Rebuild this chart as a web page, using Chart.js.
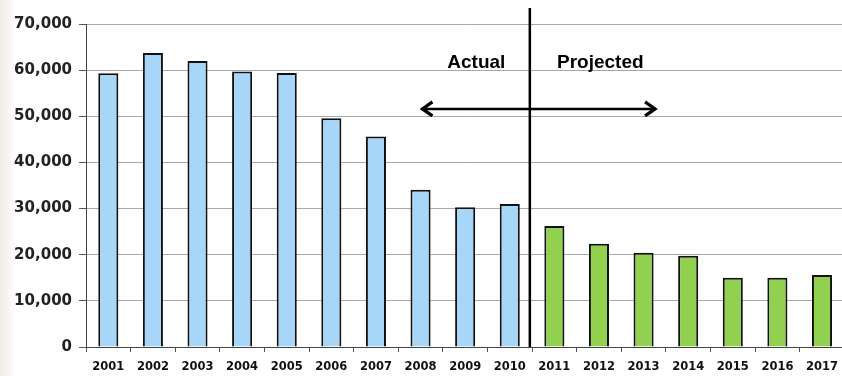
<!DOCTYPE html>
<html>
<head>
<meta charset="utf-8">
<script src="https://cdn.jsdelivr.net/npm/chart.js@4"></script>
<style>
  html, body { margin: 0; padding: 0; width: 842px; height: 376px; overflow: hidden; background: #fff; }
  #wrap { position: relative; width: 846px; height: 376px;
          background: linear-gradient(to right, #efece5 0px, #f7f5f1 8px, #ffffff 16px); }
</style>
</head>
<body>
<div id="wrap"><canvas id="c" width="846" height="376"></canvas></div>
<script>
// ---- data ----
const years = ['2001','2002','2003','2004','2005','2006','2007','2008','2009','2010',
               '2011','2012','2013','2014','2015','2016','2017'];
const actual = [59300, 63700, 62000, 59700, 59400, 49600, 45600, 34100, 30300, 31000,
                null, null, null, null, null, null, null];
const projected = [null, null, null, null, null, null, null, null, null, null,
                   26200, 22400, 20400, 19800, 15000, 15000, 15600];
const yTicks = [0, 10000, 20000, 30000, 40000, 50000, 60000, 70000];
const labelActual = 'Actual';
const labelProjected = 'Projected';

// ---- annotation plugin ----
function xAt(scale, idx) {
  const i0 = Math.floor(idx), f = idx - i0;
  const p0 = scale.getPixelForValue(i0);
  const p1 = scale.getPixelForValue(i0 + 1);
  return p0 + (p1 - p0) * f;
}
const annot = {
  id: 'annot',
  afterDatasetsDraw(chart) {
    const ctx = chart.ctx, x = chart.scales.x, y = chart.scales.y;
    ctx.save();
    // divider between actual and projected
    const xd = xAt(x, 9.45);
    ctx.strokeStyle = '#000';
    ctx.lineWidth = 2.5;
    ctx.beginPath();
    ctx.moveTo(xd, 8);
    ctx.lineTo(xd, y.getPixelForValue(0));
    ctx.stroke();
    // double arrow
    const ya = y.getPixelForValue(51600);
    const xl = xAt(x, 7.02), xr = xAt(x, 12.28);
    ctx.lineWidth = 2.5;
    ctx.beginPath();
    ctx.moveTo(xl, ya); ctx.lineTo(xr, ya);
    ctx.stroke();
    ctx.lineWidth = 3.2;
    ctx.lineJoin = 'miter';
    ctx.beginPath();
    ctx.moveTo(xl + 11, ya - 7); ctx.lineTo(xl + 1, ya); ctx.lineTo(xl + 11, ya + 7);
    ctx.moveTo(xr - 11, ya - 7); ctx.lineTo(xr - 1, ya); ctx.lineTo(xr - 11, ya + 7);
    ctx.stroke();
    // labels
    ctx.fillStyle = '#000';
    ctx.font = 'bold 19px "Liberation Sans", Arial, sans-serif';
    ctx.textAlign = 'center';
    ctx.textBaseline = 'alphabetic';
    const yt = y.getPixelForValue(60500);
    ctx.fillText(labelActual, xAt(x, 8.25), yt);
    ctx.fillText(labelProjected, xAt(x, 11.03), yt);
    ctx.restore();
  }
};

new Chart(document.getElementById('c'), {
  type: 'bar',
  data: {
    labels: years,
    datasets: [
      { label: labelActual, data: actual, backgroundColor: '#a8d6f8', borderColor: '#111',
        borderWidth: 2, grouped: false, barPercentage: 0.45, categoryPercentage: 1.0 },
      { label: labelProjected, data: projected, backgroundColor: '#92d050', borderColor: '#111',
        borderWidth: 2, grouped: false, barPercentage: 0.45, categoryPercentage: 1.0 }
    ]
  },
  options: {
    responsive: false,
    animation: false,
    layout: { padding: { top: 24, right: 0, left: 0, bottom: 0 } },
    plugins: { legend: { display: false }, tooltip: { enabled: false } },
    scales: {
      x: {
        grid: { display: true, drawOnChartArea: false, tickLength: 5, color: '#555', offset: true },
        border: { display: true, color: '#444', width: 1 },
        ticks: { color: '#111', padding: 8, maxRotation: 0, autoSkip: false,
                 font: { family: '"DejaVu Sans", sans-serif', weight: 'bold', size: 11.5 } },
        afterFit(s) { s.height = 29; }
      },
      y: {
        min: 0, max: 70000,
        afterBuildTicks(s) { s.ticks = yTicks.map(v => ({ value: v })); },
        grid: { color: '#a8a8a8', tickLength: 7, tickColor: '#555' },
        border: { display: true, color: '#444', width: 1 },
        ticks: { color: '#222', padding: 7,
                 font: { family: '"DejaVu Sans", sans-serif', weight: 'bold', size: 15 },
                 callback: v => v.toLocaleString('en-US') },
        afterFit(s) { s.width = 86; }
      }
    }
  },
  plugins: [annot]
});
</script>
</body>
</html>
